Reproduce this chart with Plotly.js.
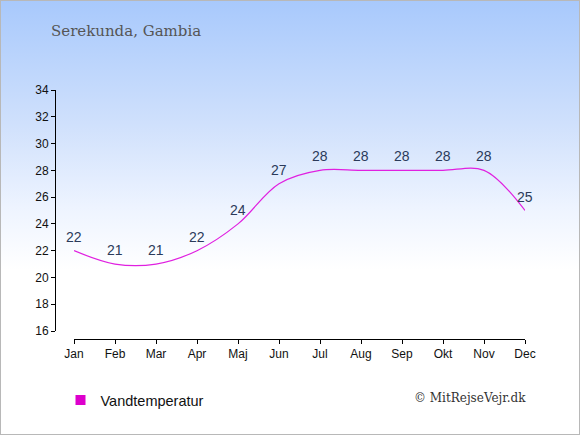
<!DOCTYPE html>
<html><head><meta charset="utf-8">
<script src="https://cdn.plot.ly/plotly-3.0.1.min.js"></script>
<style>
html,body{margin:0;padding:0;background:#fff;}
#chart{width:578px;height:433px;border:1px solid #b8b8b8;
background:linear-gradient(to bottom,#a8c9fc 0%,#cfe0fc 28%,#eef4ff 48%,#ffffff 62%,#ffffff 100%);}
</style></head>
<body><div id="chart"></div>
<script>
const months = ['Jan','Feb','Mar','Apr','Maj','Jun','Jul','Aug','Sep','Okt','Nov','Dec'];
const waterTemp = [22,21,21,22,24,27,28,28,28,28,28,25];
const yTicks = [16,18,20,22,24,26,28,30,32,34];
const seriesName = 'Vandtemperatur';
const chartTitle = 'Serekunda, Gambia';
const credit = '© MitRejseVejr.dk';

const traces = [
  {x: months, y: waterTemp, type:'scatter', mode:'lines',
   line:{shape:'spline', smoothing:1, color:'#e020e0', width:1.2},
   showlegend:false, hoverinfo:'skip'},
  {x:[null], y:[null], type:'scatter', mode:'markers', name: seriesName,
   marker:{symbol:'square', size:10, color:'#dd00cc'}, showlegend:true}
];

const valueLabels = months.map((m, i) => ({
  x: m, y: waterTemp[i], xref:'x', yref:'y', text: String(waterTemp[i]),
  showarrow:false, xanchor:'center', yanchor:'middle', yshift:14,
  font:{family:'Liberation Sans, Arial', size:14, color:'#2b3a5a'}
}));

const layout = {
  width:578, height:433,
  paper_bgcolor:'rgba(0,0,0,0)', plot_bgcolor:'rgba(0,0,0,0)',
  margin:{l:54, r:54, t:89, b:95},
  font:{family:'Liberation Sans, Arial', size:12, color:'#111'},
  title:{text: chartTitle, x:50/578, xanchor:'left', y:1-30/433, yanchor:'middle',
         font:{family:'DejaVu Serif, Liberation Serif, serif', size:15, color:'#555'}},
  xaxis:{type:'category', domain:[19/470,1], anchor:'free', position:0,
         range:[0,11], showline:true, linecolor:'#000', linewidth:1,
         ticks:'outside', ticklen:4, tickcolor:'#000', showgrid:false, zeroline:false,
         tickfont:{size:12, color:'#111'}},
  yaxis:{range:[16,34], domain:[8/249,1], anchor:'free', position:0,
         tickvals:yTicks, showline:true, linecolor:'#000', linewidth:1,
         ticks:'outside', ticklen:4, tickcolor:'#000', showgrid:false, zeroline:false,
         tickfont:{size:12, color:'#111'}},
  legend:{orientation:'h', x:0.0117, xanchor:'left', y:-0.245, yanchor:'middle',
          font:{size:14.5, color:'#111'}, bgcolor:'rgba(0,0,0,0)'},
  annotations: valueLabels.concat([{text: credit, xref:'paper', yref:'paper', x:1.006, xanchor:'right',
     y:-0.237, yanchor:'middle', showarrow:false,
     font:{family:'DejaVu Serif, Liberation Serif, serif', size:12, color:'#333'}}])
};
Plotly.newPlot('chart', traces, layout, {displayModeBar:false, staticPlot:true});
</script></body></html>
